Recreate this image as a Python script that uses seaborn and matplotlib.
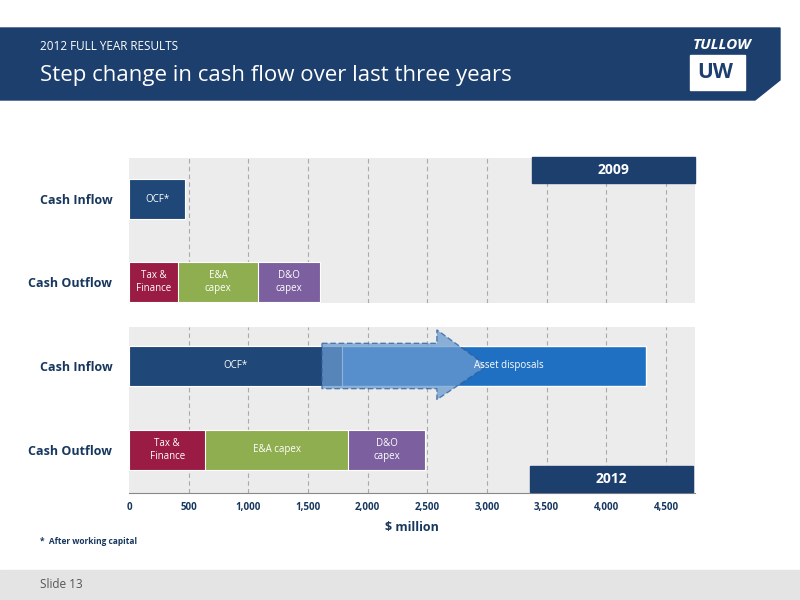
import matplotlib
matplotlib.use("Agg")
import matplotlib.pyplot as plt
import seaborn as sns
import pandas as pd
from matplotlib.patches import Polygon, Rectangle

sns.set_style("white")
plt.rcParams['font.family'] = ['Open Sans', 'DejaVu Sans']

rows = ["Cash Inflow", "Cash Outflow"]
# 2009 ($ million)
ocf_2009 = 470
out_2009 = [410, 670, 520]          # Tax & Finance, E&A capex, D&O capex
out_2009_labels = ["Tax &\nFinance", "E&A\ncapex", "D&O\ncapex"]
# 2012
ocf_2012 = 1785
disposals_2012 = 2550
out_2012 = [640, 1195, 645]
out_2012_labels = ["Tax &\nFinance", "E&A capex", "D&O\ncapex"]
ticks = [0, 500, 1000, 1500, 2000, 2500, 3000, 3500, 4000, 4500]

C_OCF = "#1f4777"; C_TAX = "#9a1b43"; C_EA = "#8fae4f"; C_DO = "#7b5f9e"; C_AD = "#1f6fc2"
NAVY = "#17375e"
XMAX = 4500 * (695 - 129) / 537

fig = plt.figure(figsize=(8, 6), dpi=100)
fig.patch.set_facecolor("white")
W, H = 800, 600
def ax_px(x0, y0, x1, y1):
    return fig.add_axes([x0 / W, 1 - y1 / H, (x1 - x0) / W, (y1 - y0) / H])

# header
hdr = fig.add_axes([0, 0, 1, 1], zorder=-5); hdr.set_xlim(0, W); hdr.set_ylim(H, 0); hdr.axis("off")
hdr.add_patch(Polygon([(0, 28), (780, 28), (780, 80), (755, 100), (0, 100)], color="#1c3f6e"))
hdr.add_patch(Rectangle((0, 570), 800, 30, color="#e4e4e4"))
hdr.text(40, 46, "2012 FULL YEAR RESULTS", color="white", fontsize=8.5, va="center")
hdr.text(40, 76, "Step change in cash flow over last three years", color="white", fontsize=16, va="center")
hdr.text(722, 45, "TULLOW", color="white", fontsize=11, fontweight="bold", fontstyle="italic", ha="center", va="center")
hdr.add_patch(Rectangle((690, 55), 55, 35, color="white"))
hdr.text(715, 73, "UW", color="#1c3f6e", fontsize=15, fontweight="bold", ha="center", va="center")
hdr.text(40, 584, "Slide 13", color="#555555", fontsize=8.5, va="center")
hdr.text(40, 541, "*  After working capital", color=NAVY, fontsize=6, fontweight="bold", va="center")

def panel(ax, ocf, extra, outs, labels, ylim):
    ax.set_facecolor("#ececec")
    for t in ticks[1:]:
        ax.axvline(t, color="#aaaaaa", ls=(0, (4, 3)), lw=0.8, zorder=0)
    cum = pd.Series(outs).cumsum().tolist()
    cols = [C_TAX, C_EA, C_DO]
    for i in range(len(outs) - 1, -1, -1):
        df = pd.DataFrame({"row": [rows[1]], "v": [cum[i]]})
        sns.barplot(data=df, x="v", y="row", order=rows, color=cols[i], orient="h",
                    width=0.48, ax=ax, saturation=1, edgecolor="white", linewidth=0.8, zorder=3)
        left = cum[i - 1] if i else 0
        ax.text((left + cum[i]) / 2, 1, labels[i], color="white", fontsize=7, ha="center", va="center", zorder=5)
    if extra:
        df = pd.DataFrame({"row": [rows[0]], "v": [ocf + extra]})
        sns.barplot(data=df, x="v", y="row", order=rows, color=C_AD, orient="h", width=0.48, ax=ax, saturation=1, zorder=3)
    df = pd.DataFrame({"row": [rows[0]], "v": [ocf]})
    sns.barplot(data=df, x="v", y="row", order=rows, color=C_OCF, orient="h", width=0.48, ax=ax, saturation=1, zorder=3,
                edgecolor="white", linewidth=0.8)
    ax.set_xlabel(""); ax.set_ylabel("")
    ax.set_xlim(0, XMAX); ax.set_ylim(*ylim)
    ax.tick_params(axis="y", length=0, labelsize=9, labelcolor=NAVY, pad=12)
    for lb in ax.get_yticklabels():
        lb.set_fontweight("bold")
    for s in ax.spines.values():
        s.set_visible(False)

ax1 = ax_px(129, 158, 695, 303)
panel(ax1, ocf_2009, 0, out_2009, out_2009_labels, (1.253, -0.494))
ax1.text(ocf_2009 / 2, 0, "OCF*", color="white", fontsize=7, ha="center", va="center", zorder=5)
ax1.set_xticks([])

ax2 = ax_px(129, 327, 695, 493)
panel(ax2, ocf_2012, disposals_2012, out_2012, out_2012_labels, (1.512, -0.464))
arr = Polygon([(1617, -0.27), (2580, -0.27), (2580, -0.43), (3000, 0.0), (2580, 0.40),
               (2580, 0.27), (1617, 0.27)], closed=True, facecolor="#6a9bd1", alpha=0.75,
              edgecolor="#2f5f9a", ls=(0, (4, 2)), lw=1, zorder=4)
ax2.add_patch(arr)
ax2.text(ocf_2012 / 2, 0, "OCF*", color="white", fontsize=7, ha="center", va="center", zorder=5)
ax2.text(ocf_2012 + disposals_2012 * 0.55, 0, "Asset disposals", color="white", fontsize=7, ha="center", va="center", zorder=5)
ax2.set_xticks(ticks)
ax2.set_xticklabels([f"{t:,}" for t in ticks], fontsize=7, fontweight="bold", color=NAVY)
ax2.spines["bottom"].set_visible(True); ax2.spines["bottom"].set_color("#888888")
ax2.tick_params(axis="x", length=3, color="#888888")
ax2.set_xlabel("$ million", fontsize=9, fontweight="bold", color=NAVY, labelpad=6)

hdr2 = fig.add_axes([0, 0, 1, 1], zorder=10); hdr2.set_xlim(0, W); hdr2.set_ylim(H, 0); hdr2.axis("off")
for (x0, y0, txt) in [(532, 157, "2009"), (530, 466, "2012")]:
    hdr2.add_patch(Rectangle((x0, y0), 163, 26, color="#1c3f6e"))
    hdr2.text(x0 + 81, y0 + 13, txt, color="white", fontsize=10, fontweight="bold", ha="center", va="center")

fig.savefig("out.png", dpi=100)
